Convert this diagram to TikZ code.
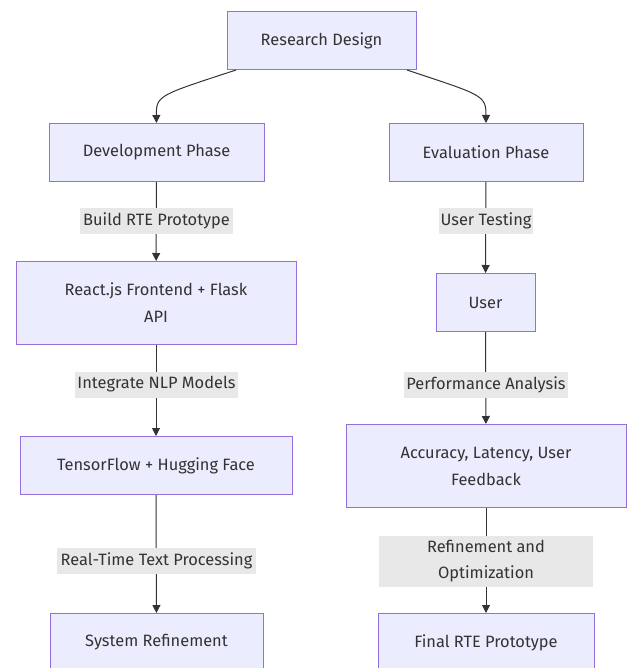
\documentclass[tikz,border=0pt]{standalone}
\usepackage{fontspec}
\setmainfont{Fira Sans}
\usetikzlibrary{arrows.meta}
\definecolor{boxfill}{HTML}{ECECFF}
\definecolor{boxline}{HTML}{9370DB}
\definecolor{ink}{HTML}{333333}
\definecolor{lblfill}{HTML}{E8E8E8}
\tikzset{
  stage/.style={draw=boxline, fill=boxfill, line width=1pt, text=ink,
    minimum height=58pt, inner sep=0pt, align=center,
    font=\fontsize{16.4}{27}\selectfont},
  edgelbl/.style={fill=lblfill, text=ink, inner sep=0pt, align=center,
    font=\fontsize{16.4}{26}\selectfont},
  flow/.style={draw=ink, line width=1pt,
    -{Triangle[length=8pt,width=8pt]}},
}
\begin{document}
\begin{tikzpicture}[x=1pt,y=-1pt]
\useasboundingbox (0,0) rectangle (630,668);
\begin{scope}
\clip (0,0) rectangle (630,668);
% stages
\node[stage, minimum width=189pt] (design) at (321.5,40.5) {Research Design};
\node[stage, minimum width=215pt] (dev) at (156.5,152.5) {Development Phase};
\node[stage, minimum width=194pt] (eval) at (486,152.5) {Evaluation Phase};
\node[stage, minimum width=280pt, minimum height=83pt] (react) at (156,303) {React.js Frontend + Flask\\API};
\node[stage, minimum width=99pt] (user) at (485.5,302.5) {User};
\node[stage, minimum width=272pt] (tf) at (156,465.5) {TensorFlow + Hugging Face};
\node[stage, minimum width=280pt, minimum height=83pt] (acc) at (486,466) {Accuracy, Latency, User\\Feedback};
\node[stage, minimum width=213pt] (refine) at (156.5,642.5) {System Refinement};
\node[stage, minimum width=216pt] (final) at (486,642.5) {Final RTE Prototype};
% connectors
\draw[flow] (design.south west -| 236,0) .. controls (160,95) and (156,95) .. (dev.north);
\draw[flow] (design.south east -| 407,0) .. controls (482,95) and (486,95) .. (eval.north);
\draw[flow] (dev) -- (react);
\draw[flow] (react) -- (tf);
\draw[flow] (tf) -- (refine);
\draw[flow] (eval) -- (user);
\draw[flow] (user) -- (acc);
\draw[flow] (acc) -- (final);
% edge labels
\node[edgelbl, minimum width=153pt, minimum height=26pt] (l1) at (156.5,220.5) {Build RTE Prototype};
\node[edgelbl, minimum width=163pt, minimum height=26pt] (l2) at (156.5,384.5) {Integrate NLP Models};
\node[edgelbl, minimum width=199pt, minimum height=26pt] (l3) at (156.5,560.5) {Real-Time Text Processing};
\node[edgelbl, minimum width=94pt, minimum height=26pt] (l4) at (486,220.5) {User Testing};
\node[edgelbl, minimum width=164pt, minimum height=26pt] (l5) at (486,384.5) {Performance Analysis};
\node[edgelbl, minimum width=214pt, minimum height=51pt] (l6) at (486,561) {Refinement and\\Optimization};
\end{scope}
\end{tikzpicture}
\end{document}
